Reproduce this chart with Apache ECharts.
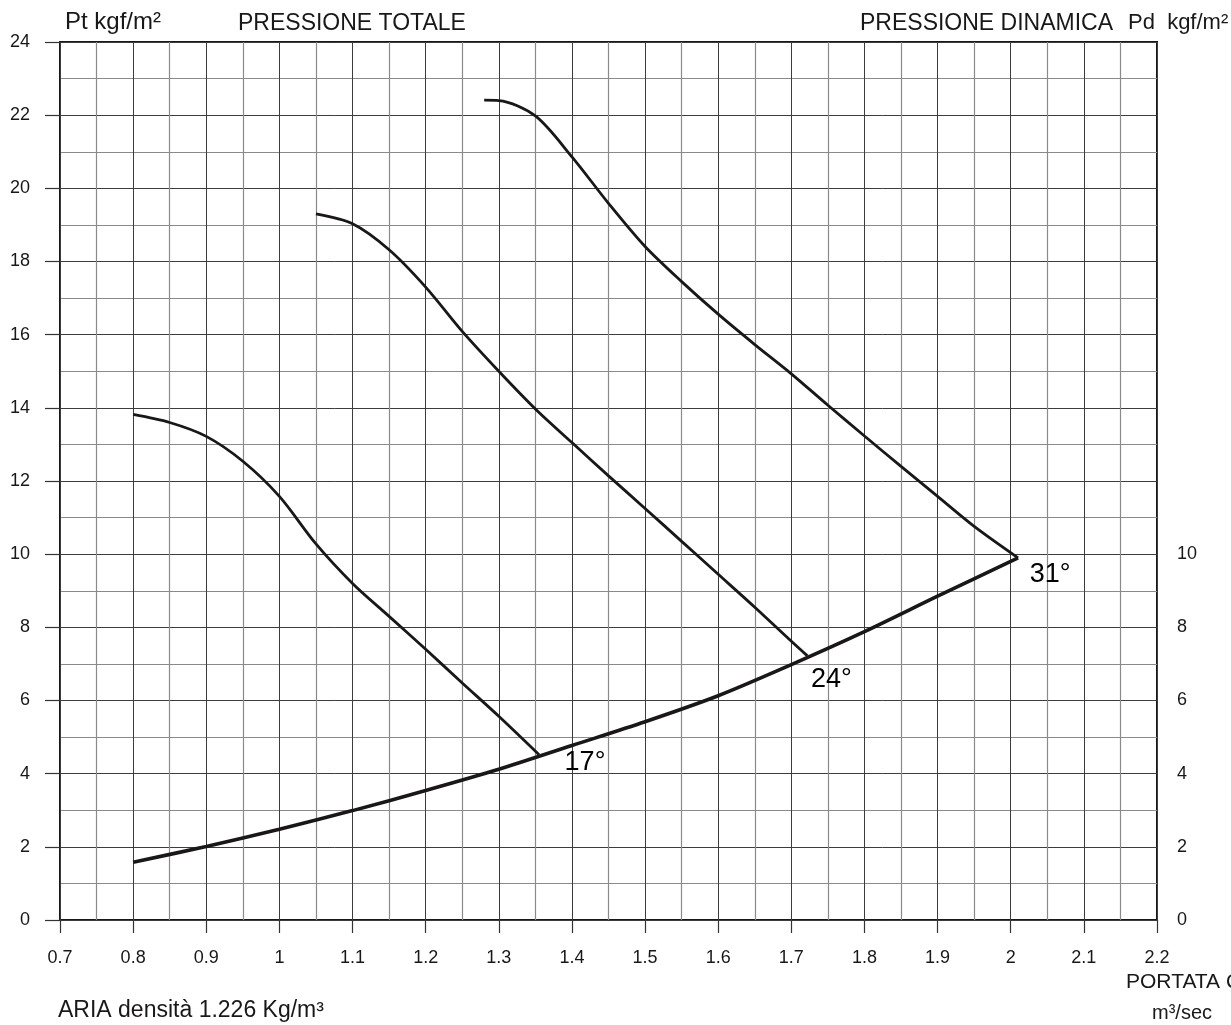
<!DOCTYPE html>
<html>
<head>
<meta charset="utf-8">
<title>Curve caratteristiche ventilatore</title>
<script src="https://cdn.jsdelivr.net/npm/echarts@6/dist/echarts.min.js"></script>
<style>
  html, body { margin: 0; padding: 0; background: #ffffff; }
  #chart { width: 1231px; height: 1025px; }
</style>
</head>
<body>
<div id="chart"></div>
<script>
// Portata Q (m³/sec) and pressione (kgf/m²).

// Pressione dinamica (system curve)
const flowPd  = [0.80, 0.90, 1.00, 1.10, 1.20, 1.30, 1.40, 1.50, 1.60, 1.70, 1.80, 1.90, 2.01];
const pressPd = [1.58, 2.01, 2.48, 2.99, 3.54, 4.12, 4.77, 5.42, 6.13, 6.98, 7.88, 8.85, 9.90];

// Pressione totale, blade angle 17°
const flow17  = [0.80, 0.85, 0.90, 0.95, 1.00, 1.05, 1.10, 1.15, 1.20, 1.25, 1.30, 1.355];
const press17 = [13.82, 13.60, 13.22, 12.54, 11.58, 10.28, 9.20, 8.30, 7.40, 6.48, 5.57, 4.52];

// Pressione totale, blade angle 24°
const flow24  = [1.05, 1.10, 1.15, 1.20, 1.25, 1.30, 1.35, 1.40, 1.45, 1.50, 1.55, 1.60, 1.65, 1.70, 1.722];
const press24 = [19.30, 19.03, 18.32, 17.30, 16.09, 15.00, 13.97, 13.05, 12.14, 11.25, 10.35, 9.45, 8.55, 7.62, 7.22];

// Pressione totale, blade angle 31°
const flow31  = [1.28, 1.30, 1.35, 1.40, 1.45, 1.50, 1.55, 1.60, 1.65, 1.70, 1.75, 1.80, 1.85, 1.90, 1.95, 2.01];
const press31 = [22.41, 22.40, 21.98, 20.86, 19.59, 18.41, 17.45, 16.56, 15.73, 14.93, 14.07, 13.23, 12.40, 11.58, 10.76, 9.90];

const curveNames = ['17°', '24°', '31°'];

// Axis ranges and tick steps
const xMin = 0.7, xMax = 2.2, xStep = 0.1;
const yMin = 0, yMax = 24, yStep = 2;
const pdLabelMax = 10;

const zip = (xs, ys) => xs.map((x, i) => [x, ys[i]]);
const last = (xs, ys) => [xs[xs.length - 1], ys[ys.length - 1]];

const INK = '#1a1718';
const FONT = '"Liberation Sans", Arial, Helvetica, sans-serif';

// Offsets of the angle labels from the end of each curve (px)
const angleLabelOffsets = [[46, 8], [24, 24], [32, 17]];

const fanCurves = [[flow17, press17], [flow24, press24], [flow31, press31]];

const chart = echarts.init(document.getElementById('chart'), null, { renderer: 'canvas' });

const tickLabelStyle = { color: INK, fontSize: 18, fontFamily: FONT };

const option = {
  animation: false,
  backgroundColor: '#ffffff',
  grid: {
    left: 60, right: 74, top: 42, bottom: 105,
    show: true, borderColor: INK, borderWidth: 2, backgroundColor: 'transparent'
  },
  xAxis: {
    type: 'value', min: xMin, max: xMax, interval: xStep,
    axisLine: { show: false },
    axisTick: { show: true, length: 13, lineStyle: { color: '#333', width: 1.2 } },
    axisLabel: Object.assign({ margin: 29, formatter: v => String(Math.round(v * 10) / 10) }, tickLabelStyle),
    splitLine: { show: true, lineStyle: { color: '#3c3c3c', width: 1 } },
    minorTick: { show: false, splitNumber: 2 },
    minorSplitLine: { show: true, lineStyle: { color: '#8a8a8a', width: 1.2 } }
  },
  yAxis: [
    {
      type: 'value', min: yMin, max: yMax, interval: yStep, position: 'left',
      axisLine: { show: false },
      axisTick: { show: true, length: 15, lineStyle: { color: '#333', width: 1.2 } },
      axisLabel: Object.assign({ margin: 30, padding: [0, 0, 12, 0] }, tickLabelStyle),
      splitLine: { show: true, lineStyle: { color: '#3c3c3c', width: 1 } },
      minorTick: { show: false, splitNumber: 2 },
      minorSplitLine: { show: true, lineStyle: { color: '#8a8a8a', width: 1.2 } }
    },
    {
      type: 'value', min: yMin, max: yMax, interval: yStep, position: 'right',
      axisLine: { show: false },
      axisTick: { show: false },
      splitLine: { show: false },
      axisLabel: Object.assign({
        margin: 20, padding: [0, 0, 12, 0], align: 'left',
        formatter: v => (v <= pdLabelMax ? String(v) : '')
      }, tickLabelStyle)
    }
  ],
  series: [
    {
      name: 'Pd', type: 'line', data: zip(flowPd, pressPd),
      smooth: 0.3, showSymbol: false, symbol: 'none',
      lineStyle: { color: INK, width: 3.6 }, z: 5
    },
    ...fanCurves.map(([xs, ys], i) => ({
      name: curveNames[i], type: 'line', data: zip(xs, ys),
      smooth: 0.3, showSymbol: false, symbol: 'none',
      lineStyle: { color: INK, width: 2.8 }, z: 4
    })),
    {
      name: 'angoli', type: 'scatter', symbolSize: 0,
      itemStyle: { color: INK, opacity: 1 },
      silent: true, z: 6,
      label: { show: true, opacity: 1 },
      data: fanCurves.map(([xs, ys], i) => ({
        value: last(xs, ys),
        label: {
          show: true, position: 'inside', offset: angleLabelOffsets[i],
          formatter: curveNames[i], color: '#000', fontSize: 27, fontFamily: FONT,
          textBorderWidth: 0, opacity: 1
        }
      }))
    }
  ],
  graphic: [
    { type: 'text', left: 65, top: 10, style: { text: 'Pt kgf/m²', fill: INK, font: '24px ' + FONT } },
    { type: 'text', left: 238, top: 12, style: { text: 'PRESSIONE TOTALE', fill: INK, font: '23px ' + FONT } },
    { type: 'text', left: 860, top: 12, style: { text: 'PRESSIONE DINAMICA', fill: INK, font: '23px ' + FONT } },
    { type: 'text', left: 1128, top: 12, style: { text: 'Pd  kgf/m²', fill: INK, font: '22px ' + FONT } },
    { type: 'text', left: 58, top: 999, style: { text: 'ARIA densità 1.226 Kg/m³', fill: INK, font: '23px ' + FONT } },
    { type: 'text', left: 1126, top: 972, style: { text: 'PORTATA Q', fill: INK, font: '21px ' + FONT } },
    { type: 'text', left: 1152, top: 1003, style: { text: 'm³/sec', fill: INK, font: '20px ' + FONT } }
  ]
};

chart.setOption(option);
</script>
</body>
</html>
